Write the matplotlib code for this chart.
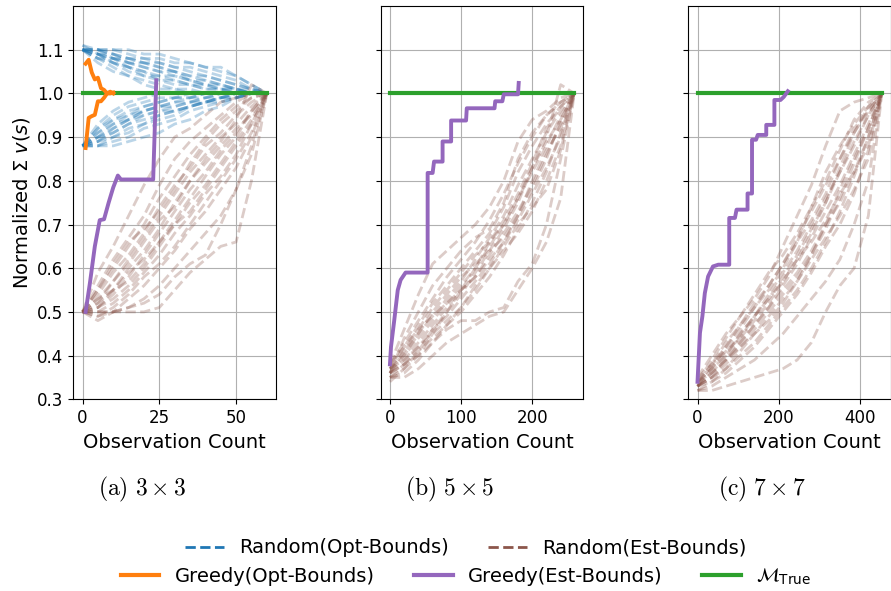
import numpy as np
import matplotlib.pyplot as plt
from matplotlib.lines import Line2D

# ---- 3x3 grid ----
n_a = 60
xa = [0, 5, 10, 15, 20, 25, 30, 35, 40, 45, 50, 55, 60]
rand_opt_upper_a = [
    [1.10, 1.10, 1.10, 1.09, 1.08, 1.08, 1.07, 1.07, 1.06, 1.05, 1.04, 1.02, 1.00],
    [1.10, 1.09, 1.08, 1.07, 1.06, 1.05, 1.04, 1.03, 1.03, 1.02, 1.01, 1.00, 1.00],
    [1.10, 1.08, 1.06, 1.04, 1.03, 1.02, 1.01, 1.01, 1.00, 1.00, 1.00, 1.00, 1.00],
    [1.10, 1.10, 1.09, 1.08, 1.07, 1.06, 1.05, 1.04, 1.04, 1.03, 1.02, 1.01, 1.00],
    [1.10, 1.09, 1.09, 1.08, 1.08, 1.07, 1.06, 1.06, 1.05, 1.04, 1.03, 1.01, 1.00],
    [1.10, 1.07, 1.05, 1.04, 1.02, 1.01, 1.01, 1.00, 1.00, 1.00, 1.00, 1.00, 1.00],
    [1.11, 1.10, 1.08, 1.06, 1.05, 1.04, 1.04, 1.03, 1.02, 1.01, 1.01, 1.00, 1.00],
    [1.10, 1.10, 1.10, 1.10, 1.09, 1.09, 1.08, 1.07, 1.06, 1.06, 1.04, 1.02, 1.00],
    [1.10, 1.08, 1.07, 1.06, 1.05, 1.03, 1.02, 1.02, 1.01, 1.01, 1.00, 1.00, 1.00],
    [1.10, 1.09, 1.07, 1.05, 1.04, 1.04, 1.03, 1.02, 1.02, 1.01, 1.01, 1.00, 1.00],
    [1.10, 1.10, 1.09, 1.07, 1.06, 1.05, 1.05, 1.04, 1.03, 1.02, 1.01, 1.01, 1.00],
    [1.10, 1.08, 1.08, 1.07, 1.07, 1.06, 1.05, 1.03, 1.02, 1.02, 1.01, 1.00, 1.00],
    [1.10, 1.09, 1.08, 1.08, 1.07, 1.07, 1.06, 1.05, 1.04, 1.03, 1.02, 1.01, 1.00],
    [1.11, 1.09, 1.07, 1.06, 1.04, 1.03, 1.03, 1.02, 1.01, 1.01, 1.00, 1.00, 1.00],
]
rand_opt_lower_a = [
    [0.88, 0.88, 0.88, 0.89, 0.90, 0.91, 0.93, 0.94, 0.96, 0.97, 0.99, 1.00, 1.00],
    [0.88, 0.91, 0.94, 0.96, 0.97, 0.98, 0.99, 0.99, 1.00, 1.00, 1.00, 1.00, 1.00],
    [0.88, 0.93, 0.96, 0.98, 0.99, 1.00, 1.00, 1.00, 1.00, 1.00, 1.00, 1.00, 1.00],
    [0.88, 0.89, 0.91, 0.93, 0.94, 0.95, 0.96, 0.97, 0.98, 0.99, 0.99, 1.00, 1.00],
    [0.88, 0.90, 0.92, 0.94, 0.96, 0.97, 0.97, 0.98, 0.99, 0.99, 1.00, 1.00, 1.00],
    [0.88, 0.88, 0.89, 0.90, 0.92, 0.93, 0.94, 0.96, 0.97, 0.98, 0.99, 1.00, 1.00],
    [0.88, 0.92, 0.95, 0.97, 0.98, 0.99, 0.99, 1.00, 1.00, 1.00, 1.00, 1.00, 1.00],
    [0.88, 0.90, 0.93, 0.95, 0.96, 0.97, 0.98, 0.99, 0.99, 1.00, 1.00, 1.00, 1.00],
    [0.88, 0.89, 0.90, 0.92, 0.93, 0.95, 0.96, 0.97, 0.98, 0.98, 0.99, 1.00, 1.00],
    [0.88, 0.91, 0.93, 0.94, 0.96, 0.97, 0.98, 0.98, 0.99, 1.00, 1.00, 1.00, 1.00],
    [0.88, 0.89, 0.92, 0.94, 0.95, 0.96, 0.97, 0.98, 0.98, 0.99, 1.00, 1.00, 1.00],
    [0.88, 0.90, 0.91, 0.93, 0.95, 0.96, 0.96, 0.97, 0.98, 0.99, 0.99, 1.00, 1.00],
    [0.88, 0.92, 0.94, 0.95, 0.97, 0.98, 0.99, 0.99, 1.00, 1.00, 1.00, 1.00, 1.00],
    [0.88, 0.88, 0.90, 0.91, 0.93, 0.94, 0.95, 0.97, 0.98, 0.99, 1.00, 1.00, 1.00],
]
rand_est_a = [
    [0.50, 0.55, 0.60, 0.65, 0.70, 0.76, 0.81, 0.86, 0.90, 0.94, 0.97, 0.99, 1.00],
    [0.50, 0.51, 0.54, 0.58, 0.63, 0.68, 0.73, 0.78, 0.82, 0.87, 0.91, 0.96, 1.00],
    [0.50, 0.50, 0.52, 0.55, 0.59, 0.63, 0.68, 0.72, 0.77, 0.81, 0.86, 0.93, 1.00],
    [0.50, 0.59, 0.65, 0.72, 0.79, 0.85, 0.90, 0.92, 0.95, 0.98, 0.99, 1.00, 1.00],
    [0.50, 0.50, 0.50, 0.51, 0.53, 0.56, 0.60, 0.64, 0.68, 0.72, 0.78, 0.86, 1.00],
    [0.50, 0.53, 0.57, 0.62, 0.67, 0.72, 0.77, 0.82, 0.86, 0.90, 0.93, 0.97, 1.00],
    [0.50, 0.49, 0.50, 0.50, 0.50, 0.51, 0.55, 0.59, 0.62, 0.65, 0.66, 0.80, 1.00],
    [0.50, 0.54, 0.59, 0.63, 0.68, 0.74, 0.79, 0.83, 0.88, 0.91, 0.95, 0.98, 1.00],
    [0.50, 0.52, 0.55, 0.60, 0.64, 0.69, 0.75, 0.80, 0.85, 0.89, 0.94, 1.02, 1.00],
    [0.50, 0.51, 0.53, 0.56, 0.60, 0.65, 0.70, 0.75, 0.79, 0.84, 0.89, 0.94, 1.00],
    [0.50, 0.48, 0.50, 0.53, 0.56, 0.60, 0.64, 0.69, 0.73, 0.78, 0.83, 0.90, 1.00],
    [0.50, 0.56, 0.62, 0.67, 0.72, 0.79, 0.85, 0.89, 0.92, 0.95, 0.98, 1.00, 1.00],
    [0.50, 0.52, 0.57, 0.61, 0.66, 0.71, 0.74, 0.80, 0.84, 0.88, 0.92, 0.95, 1.00],
    [0.50, 0.50, 0.50, 0.51, 0.52, 0.54, 0.58, 0.61, 0.63, 0.70, 0.78, 0.88, 1.00],
    [0.50, 0.55, 0.61, 0.66, 0.69, 0.73, 0.78, 0.84, 0.89, 0.93, 0.96, 0.99, 1.00],
    [0.50, 0.53, 0.55, 0.59, 0.62, 0.66, 0.71, 0.76, 0.81, 0.86, 0.90, 0.96, 1.00],
    [0.50, 0.51, 0.55, 0.57, 0.61, 0.66, 0.70, 0.73, 0.78, 0.83, 0.88, 0.93, 1.00],
    [0.50, 0.49, 0.51, 0.54, 0.58, 0.61, 0.65, 0.70, 0.75, 0.80, 0.85, 0.91, 1.00],
]
greedy_opt_x = [1, 2, 3, 4, 5, 6, 7, 8, 9, 10]
greedy_opt_upper = [1.068, 1.077, 1.048, 1.032, 1.036, 1.012, 1.008, 1.0, 1.004, 1.0]
greedy_opt_lower = [0.875, 0.944, 0.948, 0.951, 0.982, 0.982, 0.99, 1.0, 1.0, 1.002]
greedy_est_xa = [1, 2.4, 4, 5.6, 7, 8.5, 10, 11.5, 12.5, 23, 24]
greedy_est_ya = [0.5, 0.566, 0.65, 0.71, 0.712, 0.75, 0.785, 0.812, 0.803, 0.803, 1.03]

# ---- 5x5 grid ----
n_b = 259
xb = [0, 20, 40, 60, 80, 100, 120, 140, 160, 180, 200, 220, 240, 259]
rand_est_b = [
    [0.36, 0.40, 0.44, 0.48, 0.52, 0.56, 0.60, 0.65, 0.70, 0.76, 0.82, 0.88, 0.95, 1.00],
    [0.37, 0.42, 0.47, 0.52, 0.56, 0.60, 0.64, 0.68, 0.74, 0.82, 0.88, 0.93, 0.97, 1.00],
    [0.36, 0.38, 0.41, 0.44, 0.47, 0.50, 0.54, 0.58, 0.63, 0.69, 0.75, 0.82, 0.91, 1.00],
    [0.38, 0.46, 0.54, 0.61, 0.64, 0.67, 0.70, 0.74, 0.80, 0.89, 0.94, 0.96, 0.99, 1.00],
    [0.35, 0.36, 0.39, 0.43, 0.46, 0.48, 0.48, 0.50, 0.51, 0.57, 0.61, 0.70, 0.85, 1.00],
    [0.36, 0.41, 0.45, 0.49, 0.53, 0.57, 0.62, 0.67, 0.72, 0.79, 0.85, 0.91, 0.96, 1.00],
    [0.37, 0.39, 0.43, 0.47, 0.51, 0.55, 0.58, 0.63, 0.68, 0.73, 0.79, 0.86, 0.93, 1.00],
    [0.35, 0.37, 0.40, 0.45, 0.50, 0.54, 0.59, 0.64, 0.69, 0.75, 0.83, 0.90, 1.02, 1.00],
    [0.38, 0.43, 0.48, 0.53, 0.58, 0.62, 0.66, 0.71, 0.77, 0.84, 0.90, 0.95, 0.98, 1.00],
    [0.36, 0.38, 0.42, 0.46, 0.49, 0.53, 0.57, 0.61, 0.66, 0.71, 0.77, 0.83, 0.90, 1.00],
    [0.34, 0.37, 0.41, 0.46, 0.50, 0.55, 0.60, 0.66, 0.71, 0.77, 0.84, 0.92, 0.97, 1.00],
    [0.37, 0.40, 0.45, 0.50, 0.54, 0.58, 0.61, 0.64, 0.67, 0.72, 0.78, 0.85, 0.94, 1.00],
    [0.36, 0.44, 0.50, 0.56, 0.60, 0.64, 0.67, 0.69, 0.75, 0.85, 0.91, 0.95, 0.98, 1.00],
    [0.35, 0.35, 0.37, 0.40, 0.43, 0.45, 0.47, 0.49, 0.50, 0.55, 0.60, 0.66, 0.76, 1.00],
    [0.37, 0.41, 0.46, 0.49, 0.52, 0.55, 0.58, 0.62, 0.66, 0.72, 0.80, 0.87, 0.92, 1.00],
    [0.36, 0.39, 0.42, 0.45, 0.48, 0.51, 0.55, 0.60, 0.64, 0.68, 0.73, 0.80, 0.88, 1.00],
    [0.38, 0.42, 0.46, 0.51, 0.55, 0.59, 0.63, 0.66, 0.70, 0.76, 0.83, 0.89, 0.94, 1.00],
    [0.35, 0.38, 0.40, 0.43, 0.47, 0.51, 0.56, 0.60, 0.65, 0.70, 0.74, 0.78, 0.87, 1.00],
]
greedy_est_xb = [0, 1.5, 6, 11, 15, 22, 53, 53, 60, 62, 74, 74, 86, 86, 107, 108,
                 147, 148, 158, 160, 180, 181]
greedy_est_yb = [0.38, 0.42, 0.48, 0.55, 0.573, 0.59, 0.59, 0.818, 0.818, 0.844,
                 0.844, 0.89, 0.89, 0.938, 0.938, 0.966, 0.966, 0.982, 0.982,
                 0.998, 0.998, 1.024]

# ---- 7x7 grid ----
n_c = 453
xc = [0, 35, 70, 105, 140, 175, 210, 245, 280, 315, 350, 385, 420, 453]
rand_est_c = [
    [0.33, 0.36, 0.39, 0.43, 0.47, 0.51, 0.56, 0.61, 0.67, 0.73, 0.79, 0.86, 0.93, 1.00],
    [0.34, 0.38, 0.42, 0.46, 0.51, 0.56, 0.61, 0.67, 0.73, 0.79, 0.85, 0.91, 0.96, 1.00],
    [0.33, 0.35, 0.37, 0.40, 0.43, 0.47, 0.51, 0.55, 0.60, 0.66, 0.73, 0.81, 0.90, 1.00],
    [0.34, 0.39, 0.44, 0.49, 0.53, 0.58, 0.65, 0.72, 0.79, 0.88, 0.96, 0.98, 0.99, 1.00],
    [0.32, 0.33, 0.35, 0.37, 0.39, 0.42, 0.45, 0.49, 0.53, 0.57, 0.62, 0.70, 0.80, 1.00],
    [0.33, 0.37, 0.40, 0.44, 0.49, 0.53, 0.58, 0.63, 0.69, 0.75, 0.82, 0.88, 0.95, 1.00],
    [0.34, 0.36, 0.40, 0.45, 0.49, 0.54, 0.59, 0.64, 0.70, 0.76, 0.82, 0.89, 0.95, 1.00],
    [0.33, 0.34, 0.36, 0.39, 0.42, 0.46, 0.50, 0.54, 0.59, 0.65, 0.70, 0.77, 0.87, 1.00],
    [0.35, 0.40, 0.45, 0.49, 0.54, 0.59, 0.63, 0.68, 0.74, 0.80, 0.87, 0.94, 0.98, 1.00],
    [0.33, 0.35, 0.38, 0.42, 0.46, 0.50, 0.54, 0.58, 0.63, 0.69, 0.76, 0.84, 0.92, 1.00],
    [0.32, 0.34, 0.37, 0.41, 0.45, 0.49, 0.53, 0.57, 0.62, 0.67, 0.72, 0.78, 0.85, 1.00],
    [0.34, 0.37, 0.41, 0.45, 0.49, 0.53, 0.57, 0.62, 0.68, 0.75, 0.83, 0.91, 0.97, 1.00],
    [0.33, 0.38, 0.43, 0.47, 0.51, 0.55, 0.60, 0.66, 0.74, 0.82, 0.88, 0.93, 0.97, 1.00],
    [0.32, 0.32, 0.33, 0.34, 0.35, 0.36, 0.37, 0.39, 0.43, 0.50, 0.56, 0.60, 0.72, 1.00],
    [0.34, 0.37, 0.42, 0.47, 0.52, 0.56, 0.61, 0.66, 0.71, 0.77, 0.85, 0.92, 0.96, 1.00],
    [0.33, 0.36, 0.39, 0.42, 0.45, 0.48, 0.52, 0.57, 0.63, 0.70, 0.78, 0.85, 0.92, 1.00],
    [0.35, 0.38, 0.41, 0.44, 0.48, 0.52, 0.57, 0.62, 0.66, 0.71, 0.77, 0.82, 0.90, 1.00],
    [0.33, 0.35, 0.39, 0.43, 0.47, 0.51, 0.55, 0.59, 0.64, 0.70, 0.75, 0.82, 0.88, 1.00],
]
greedy_est_xc = [0, 6, 12, 18, 26, 38, 51, 78, 78, 92, 96, 123, 123, 134, 134, 144,
                 148, 169, 169, 189, 189, 204, 212, 222]
greedy_est_yc = [0.34, 0.452, 0.49, 0.543, 0.581, 0.604, 0.608, 0.608, 0.715, 0.715,
                 0.734, 0.734, 0.771, 0.771, 0.894, 0.894, 0.905, 0.905, 0.928,
                 0.928, 0.985, 0.985, 0.992, 1.005]

captions = [r"$\mathrm{(a)}\ 3\times3$", r"$\mathrm{(b)}\ 5\times5$", r"$\mathrm{(c)}\ 7\times7$"]
xticks = [[0, 25, 50], [0, 100, 200], [0, 200, 400]]

fig = plt.figure(figsize=(8.91, 5.91), dpi=100)
lefts = [0.0823, 0.4273, 0.7725]
axes = []
for l in lefts:
    ax = fig.add_axes([l, 0.3244, 0.2275, 0.6654], sharey=axes[0] if axes else None)
    axes.append(ax)

dash_kw = dict(ls="--", lw=2.0, alpha=0.3)
solid_kw = dict(lw=2.8)

# panel a
ax = axes[0]
for up, lo in zip(rand_opt_upper_a, rand_opt_lower_a):
    ax.plot(xa, up, color="tab:blue", **dash_kw)
    ax.plot(xa, lo, color="tab:blue", **dash_kw)
for run in rand_est_a:
    ax.plot(xa, run, color="tab:brown", **dash_kw)
ax.plot([0, n_a], [1.0, 1.0], color="tab:green", lw=3)
ax.plot(greedy_opt_x, greedy_opt_upper, color="tab:orange", **solid_kw)
ax.plot(greedy_opt_x, greedy_opt_lower, color="tab:orange", **solid_kw)
ax.plot(greedy_est_xa, greedy_est_ya, color="tab:purple", **solid_kw)

# panel b
ax = axes[1]
for run in rand_est_b:
    ax.plot(xb, run, color="tab:brown", **dash_kw)
ax.plot([0, n_b], [1.0, 1.0], color="tab:green", lw=3)
ax.plot(greedy_est_xb, greedy_est_yb, color="tab:purple", **solid_kw)

# panel c
ax = axes[2]
for run in rand_est_c:
    ax.plot(xc, run, color="tab:brown", **dash_kw)
ax.plot([0, n_c], [1.0, 1.0], color="tab:green", lw=3)
ax.plot(greedy_est_xc, greedy_est_yc, color="tab:purple", **solid_kw)

for i, ax in enumerate(axes):
    ax.grid(True)
    ax.set_xticks(xticks[i])
    ax.set_xlabel("Observation Count", fontsize=14)
    ax.tick_params(labelsize=12)
    if i > 0:
        ax.tick_params(labelleft=False)

axes[0].set_ylim(0.3, 1.2)
axes[0].set_yticks([0.3, 0.4, 0.5, 0.6, 0.7, 0.8, 0.9, 1.0, 1.1])
axes[0].set_ylabel(r"Normalized $\Sigma$ $v(s)$", fontsize=14)

for cx, cap in zip([0.159, 0.505, 0.855], captions):
    fig.text(cx, 0.171, cap, ha="center", va="center", fontsize=17, math_fontfamily="cm")

row1 = [Line2D([], [], color="tab:blue", ls="--", lw=2),
        Line2D([], [], color="tab:brown", ls="--", lw=2)]
row2 = [Line2D([], [], color="tab:orange", lw=3),
        Line2D([], [], color="tab:purple", lw=3),
        Line2D([], [], color="tab:green", lw=3)]
fig.legend(row1, ["Random(Opt-Bounds)", "Random(Est-Bounds)"], loc="center",
           bbox_to_anchor=(0.523, 0.073), ncol=2, frameon=False, fontsize=14)
fig.legend(row2, ["Greedy(Opt-Bounds)", "Greedy(Est-Bounds)", r"$\mathcal{M}_{\mathrm{True}}$"],
           loc="center", bbox_to_anchor=(0.523, 0.024), ncol=3, frameon=False, fontsize=14)

fig.savefig("out.png", dpi=100)
